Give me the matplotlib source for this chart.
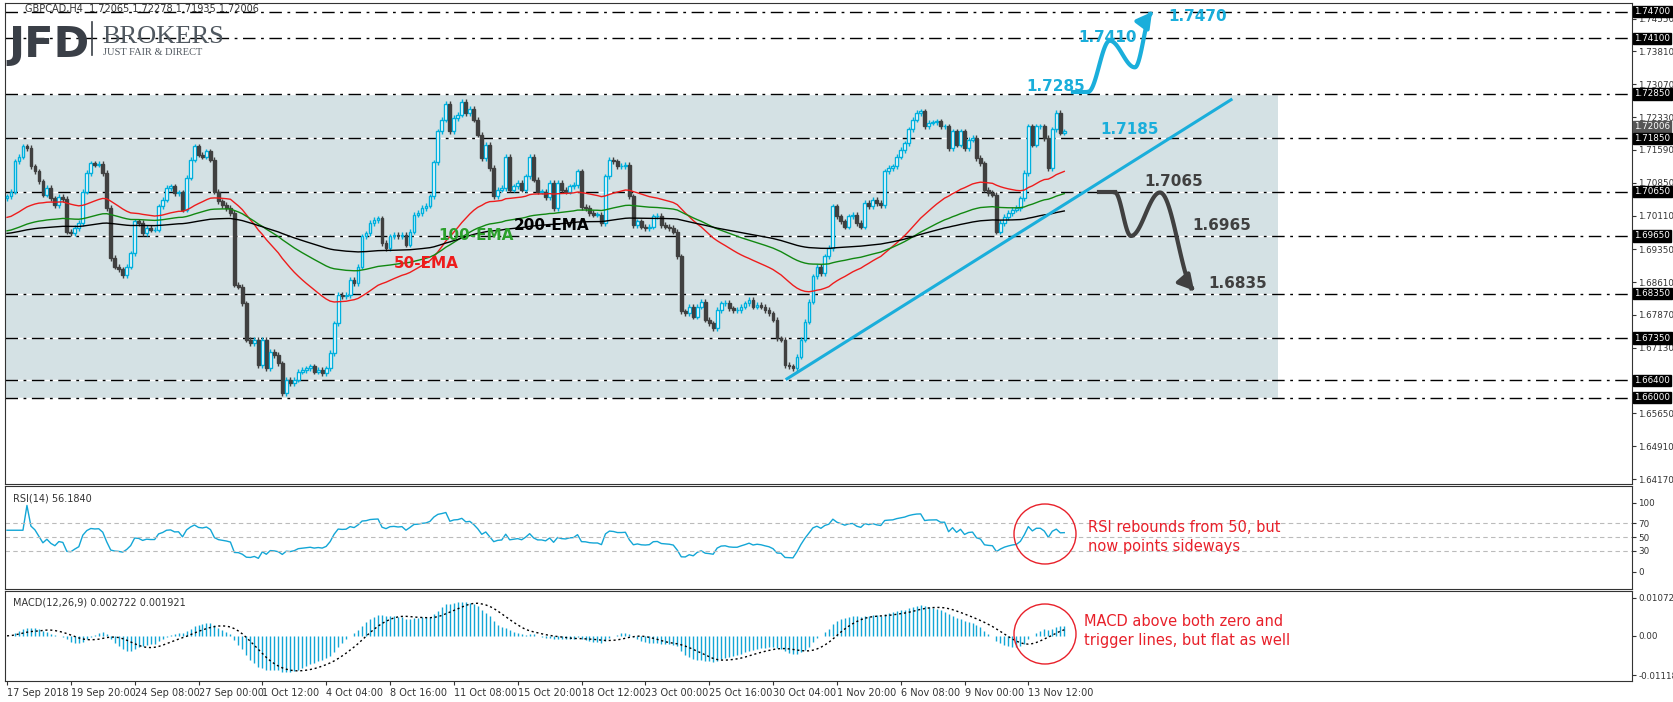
import numpy as np
import pandas as pd
import matplotlib
matplotlib.use('Agg')
import matplotlib.pyplot as plt
from matplotlib.patches import Rectangle, Ellipse
from matplotlib.transforms import blended_transform_factory

# GBPCAD H4 closes
closes = [
    1.7054, 1.7065, 1.7133, 1.7144, 1.7167, 1.7163, 1.7122, 1.7111, 1.7088, 1.7058,
    1.7073, 1.7050, 1.7035, 1.7053, 1.7048, 1.6975, 1.6971, 1.6983, 1.6994, 1.7065,
    1.7107, 1.7129, 1.7126, 1.7128, 1.7107, 1.7028, 1.6915, 1.6896, 1.6890, 1.6877,
    1.6896, 1.6926, 1.6998, 1.6994, 1.6971, 1.6983, 1.6979, 1.6979, 1.7032, 1.7047,
    1.7073, 1.7077, 1.7062, 1.7063, 1.7024, 1.7096, 1.7137, 1.7167, 1.7148, 1.7144,
    1.7156, 1.7137, 1.7065, 1.7043, 1.7035, 1.7028, 1.7017, 1.6855, 1.6851, 1.6813,
    1.6731, 1.6723, 1.6731, 1.6674, 1.6731, 1.6667, 1.6704, 1.6697, 1.6678, 1.6610,
    1.6641, 1.6633, 1.6641, 1.6659, 1.6663, 1.6667, 1.6671, 1.6659, 1.6663, 1.6656,
    1.6667, 1.6701, 1.6768, 1.6832, 1.6829, 1.6832, 1.6866, 1.6859, 1.6896, 1.6964,
    1.6971, 1.6994, 1.7001, 1.7005, 1.6949, 1.6938, 1.6964, 1.6968, 1.6964, 1.6968,
    1.6945, 1.6975, 1.7013, 1.7017, 1.7028, 1.7033, 1.7054, 1.7131, 1.7201, 1.7227,
    1.7263, 1.7201, 1.7231, 1.7238, 1.7268, 1.7242, 1.7251, 1.7227, 1.7193, 1.7141,
    1.7171, 1.7118, 1.7054, 1.7069, 1.7073, 1.7144, 1.7069, 1.7077, 1.7084, 1.7069,
    1.7099, 1.7144, 1.7092, 1.7065, 1.7065, 1.7053, 1.7084, 1.7028, 1.7084, 1.7069,
    1.7065, 1.7077, 1.7080, 1.7111, 1.7030, 1.7028, 1.7017, 1.7013, 1.7013, 1.6994,
    1.7099, 1.7137, 1.7133, 1.7123, 1.7123, 1.7126, 1.7054, 1.6990, 1.6998, 1.6986,
    1.6983, 1.6986, 1.7009, 1.7011, 1.6990, 1.6986, 1.6983, 1.6975, 1.6919, 1.6795,
    1.6791, 1.6806, 1.6783, 1.6806, 1.6817, 1.6776, 1.6768, 1.6757, 1.6798, 1.6813,
    1.6815, 1.6802, 1.6798, 1.6798, 1.6806, 1.6813, 1.6821, 1.6806, 1.6810, 1.6806,
    1.6798, 1.6791, 1.6776, 1.6734, 1.6731, 1.6674, 1.6671, 1.6667, 1.6693, 1.6731,
    1.6772, 1.6817, 1.6874, 1.6896, 1.6881, 1.6919, 1.6938, 1.7032, 1.7009, 1.6998,
    1.6986, 1.7009, 1.7013, 1.6994, 1.6986, 1.7039, 1.7032, 1.7047, 1.7039, 1.7035,
    1.7111, 1.7118, 1.7122, 1.7144, 1.7159, 1.7174, 1.7205, 1.7227, 1.7242, 1.7246,
    1.7212, 1.7220, 1.7221, 1.7223, 1.7212, 1.7212, 1.7163, 1.7201, 1.7171, 1.7201,
    1.7163, 1.7182, 1.7186, 1.7141, 1.7129, 1.7069, 1.7062, 1.7058, 1.6975, 1.6994,
    1.7008, 1.7017, 1.7024, 1.7028, 1.7050, 1.7107, 1.7212, 1.7171, 1.7212, 1.7212,
    1.7186, 1.7118, 1.7205, 1.7242, 1.7198, 1.72006,
]
first_open = 1.7050
ema_seeds = {50: 1.7005, 100: 1.6975, 200: 1.6970}

date_labels = ['17 Sep 2018', '19 Sep 20:00', '24 Sep 08:00', '27 Sep 00:00', '1 Oct 12:00',
               '4 Oct 04:00', '8 Oct 16:00', '11 Oct 08:00', '15 Oct 20:00', '18 Oct 12:00',
               '23 Oct 00:00', '25 Oct 16:00', '30 Oct 04:00', '1 Nov 20:00', '6 Nov 08:00',
               '9 Nov 00:00', '13 Nov 12:00']
date_pos = [k * 16 for k in range(len(date_labels))]

levels = [1.7470, 1.7410, 1.7285, 1.7185, 1.7065, 1.6965, 1.6835, 1.6735, 1.6640, 1.6600]
axis_ticks = [1.7455, 1.7381, 1.7307, 1.7233, 1.7159, 1.7085, 1.7011, 1.6935, 1.6861,
              1.6787, 1.6713, 1.6565, 1.6491, 1.6417]

close = pd.Series(closes)
opens = pd.Series([first_open] + closes[:-1])
n = len(closes)
idx = np.arange(n)

def ema(series, period, seed):
    a = 2.0 / (period + 1)
    out = []
    v = seed
    for c in series:
        v = v + a * (c - v)
        out.append(v)
    return np.array(out)

ema50 = ema(closes, 50, ema_seeds[50])
ema100 = ema(closes, 100, ema_seeds[100])
ema200 = ema(closes, 200, ema_seeds[200])

delta = close.diff().fillna(0)
gain = delta.clip(lower=0).ewm(alpha=1/14, adjust=False).mean()
loss = (-delta.clip(upper=0)).ewm(alpha=1/14, adjust=False).mean()
rsi = 100 - 100 / (1 + gain / loss.replace(0, np.nan))
rsi = rsi.fillna(60)

macd = close.ewm(span=12, adjust=False).mean() - close.ewm(span=26, adjust=False).mean()
signal = macd.rolling(9, min_periods=1).mean()

W, H = 1674, 702
fig = plt.figure(figsize=(W / 100, H / 100), dpi=100, facecolor='white')
L, R = 5 / W, 1632 / W
ax = fig.add_axes([L, 1 - 484 / H, R - L, (484 - 3) / H])
ax_rsi = fig.add_axes([L, 1 - 589 / H, R - L, (589 - 486) / H], sharex=ax)
ax_macd = fig.add_axes([L, 1 - 681 / H, R - L, (681 - 591) / H], sharex=ax)

xmin, xmax = -0.5, 407.3
ax.set_xlim(xmin, xmax)
ax.set_ylim(1.6406, 1.7490)

blue = '#1aaedb'
dark = '#404040'

# range box
ax.add_patch(Rectangle((xmin, 1.6600), 318.5 - xmin, 1.7285 - 1.6600,
                       facecolor='#d4e1e4', edgecolor='none', zorder=0))
for lv in levels:
    ax.axhline(lv, color='white', lw=1, zorder=1)
    ax.axhline(lv, color='black', lw=1, ls=(0, (9, 4, 2, 4)), zorder=1)

# candles
wick = 0.0006
for i in range(n):
    o, c = opens[i], closes[i]
    hi, lo = max(o, c) + wick, min(o, c) - wick
    if c >= o:
        ax.vlines(i, lo, hi, color='#00b0de', lw=1, zorder=3)
        ax.add_patch(Rectangle((i - 0.35, o), 0.7, max(c - o, 0.00005),
                               facecolor='white', edgecolor='#00b0de', lw=1, zorder=4))
    else:
        ax.vlines(i, lo, hi, color=dark, lw=1, zorder=3)
        ax.add_patch(Rectangle((i - 0.35, c), 0.7, o - c,
                               facecolor=dark, edgecolor=dark, lw=1, zorder=4))

ax.plot(idx, ema50, color='#ee1c1c', lw=1, zorder=5)
ax.plot(idx, ema100, color='#118811', lw=1, zorder=5)
ax.plot(idx, ema200, color='black', lw=1, zorder=5)
ax.text(108, 1.6955, '100-EMA', color='#2ca02c', fontsize=11, fontweight='bold', zorder=6)
ax.text(97, 1.6892, '50-EMA', color='#ee1c1c', fontsize=11, fontweight='bold', zorder=6)
ax.text(127, 1.6978, '200-EMA', color='black', fontsize=11, fontweight='bold', zorder=6)

# trend line
ax.plot([195.5, 306.8], [1.6643, 1.7272], color=blue, lw=2.2, zorder=6)

def wave(pts, steps=30):
    xs, ys = [pts[0][0]], [pts[0][1]]
    for (x0, y0), (x1, y1) in zip(pts[:-1], pts[1:]):
        t = np.linspace(0, 1, steps)[1:]
        xs += list(x0 + (x1 - x0) * t)
        ys += list(y0 + (y1 - y0) * (1 - np.cos(np.pi * t)) / 2)
    return np.array(xs), np.array(ys)

bx, by = wave([(271, 1.7290), (276.4, 1.7405), (282.7, 1.7345), (287.0, 1.7470)])
ax.plot([267.2, 271], [1.7290, 1.7290], color=blue, lw=3, zorder=7)
ax.plot(bx[:-4], by[:-4], color=blue, lw=3, zorder=7)
ax.annotate('', xy=(bx[-1], by[-1]), xytext=(bx[-6], by[-6]),
            arrowprops=dict(arrowstyle='-|>,head_width=0.5,head_length=0.9', color=blue, lw=3), zorder=7)

kx, ky = wave([(277.7, 1.7063), (281.7, 1.6965), (289, 1.7063), (298, 1.6837)])
ax.plot([273.7, 277.7], [1.7063, 1.7063], color=dark, lw=3, zorder=7)
ax.plot(kx[:-4], ky[:-4], color=dark, lw=3, zorder=7)
ax.annotate('', xy=(kx[-1], ky[-1]), xytext=(kx[-6], ky[-6]),
            arrowprops=dict(arrowstyle='-|>,head_width=0.5,head_length=0.9', color=dark, lw=3), zorder=7)

lab = dict(fontsize=11, fontweight='bold', zorder=8, va='center')
ax.text(255.5, 1.7302, '1.7285', color=blue, **lab)
ax.text(268.5, 1.7412, '1.7410', color=blue, **lab)
ax.text(291, 1.7460, '1.7470', color=blue, **lab)
ax.text(274, 1.7205, '1.7185', color=blue, **lab)
ax.text(285, 1.7088, '1.7065', color=dark, **lab)
ax.text(297, 1.6988, '1.6965', color=dark, **lab)
ax.text(301, 1.6857, '1.6835', color=dark, **lab)

# right price axis
for a in (ax, ax_rsi, ax_macd):
    a.yaxis.tick_right()
    a.tick_params(axis='y', labelsize=6.3, colors='#333333', length=3, pad=1.5)
    a.tick_params(axis='x', bottom=False, labelbottom=False)
    for s in a.spines.values():
        s.set_color('#333333')
ax.set_yticks(axis_ticks)
ax.set_yticklabels(['%.5f' % t for t in axis_ticks])
tr = blended_transform_factory(ax.transAxes, ax.transData)
for lv in levels:
    ax.text(1.0015, lv, '%.5f' % lv, transform=tr, fontsize=6.3, color='white', va='center',
            bbox=dict(boxstyle='square,pad=0.12', fc='black', ec='black'), zorder=10, clip_on=False)
ax.text(1.0015, 1.72006, '1.72006', transform=tr, fontsize=6.3, color='white', va='bottom',
        bbox=dict(boxstyle='square,pad=0.12', fc='#555555', ec='#555555'), zorder=9, clip_on=False)

ax.text(0.012, 0.997, 'GBPCAD,H4  1.72065 1.72278 1.71935 1.72006', transform=ax.transAxes,
        fontsize=7, color='#333333', va='top')
fig.text(8 / W, 1 - 57 / H, 'JFD', fontsize=31, fontweight='bold', color='#3a3f47',
         family='DejaVu Sans')
fig.add_artist(plt.Line2D([92 / W, 92 / W], [1 - 22 / H, 1 - 55 / H], color='#3a3f47', lw=1.2))
fig.text(102 / W, 1 - 43 / H, 'BROKERS', fontsize=19, color='#505860', family='Liberation Serif')
fig.text(103 / W, 1 - 55 / H, 'JUST FAIR & DIRECT', fontsize=7.5, color='#505860',
         family='Liberation Serif')

# RSI
ax_rsi.plot(idx, rsi, color='#13a6d6', lw=1)
ax_rsi.set_ylim(-25, 124)
for lv in (70, 50, 30):
    ax_rsi.axhline(lv, color='#bbbbbb', lw=0.8, ls=(0, (4, 3)))
ax_rsi.set_yticks([100, 70, 50, 30, 0])
ax_rsi.text(0.005, 0.93, 'RSI(14) 56.1840', transform=ax_rsi.transAxes, fontsize=7,
            color='#333333', va='top')

# MACD
ax_macd.vlines(idx, 0, macd, color='#13a6d6', lw=1)
ax_macd.plot(idx, signal, color='black', lw=1, ls=(0, (1.5, 2)))
ax_macd.set_ylim(-0.0128, 0.0127)
ax_macd.set_yticks([0.01072, 0.0, -0.011186])
ax_macd.set_yticklabels(['0.01072', '0.00', '-0.011186'])
ax_macd.text(0.005, 0.93, 'MACD(12,26,9) 0.002722 0.001921', transform=ax_macd.transAxes,
             fontsize=7, color='#333333', va='top')
ax_macd.set_xticks(date_pos)
ax_macd.set_xticklabels(date_labels, ha='left')
ax_macd.tick_params(axis='x', bottom=True, labelbottom=True, labelsize=7, colors='#333333',
                    length=3, pad=2)

red = '#e8202a'
fig.add_artist(Ellipse((1045 / W, 1 - 534 / H), 62 / W, 60 / H, fill=False, ec=red, lw=1))
fig.add_artist(Ellipse((1045 / W, 1 - 634 / H), 62 / W, 60 / H, fill=False, ec=red, lw=1))
fig.text(1088 / W, 1 - 537 / H, 'RSI rebounds from 50, but\nnow points sideways', color=red,
         fontsize=10.5, linespacing=1.3, va='center')
fig.text(1084 / W, 1 - 631 / H, 'MACD above both zero and\ntrigger lines, but flat as well',
         color=red, fontsize=10.5, linespacing=1.3, va='center')

fig.savefig('out.png', dpi=100, facecolor='white')
